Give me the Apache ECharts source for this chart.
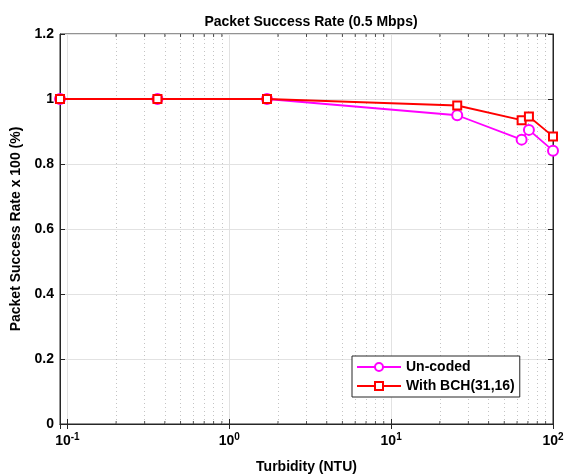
<!DOCTYPE html>
<html><head><meta charset="utf-8">
<script src="https://cdn.jsdelivr.net/npm/echarts@6/dist/echarts.min.js"></script>
<style>html,body{margin:0;padding:0;background:#fff}#c{width:564px;height:475px}</style>
</head><body><div id="c"></div>
<script>
var turbidity = [0.09, 0.36, 1.71, 25.6, 64, 71, 100];
var uncoded = [1, 1, 1, 0.95, 0.875, 0.905, 0.841];
var bch = [1, 1, 1, 0.98, 0.935, 0.946, 0.885];
var seriesNames = ['Un-coded', 'With BCH(31,16)'];
var minorX = [];
[0.1, 1, 10].forEach(function (d) { for (var k = 2; k <= 9; k++) minorX.push(+(d * k).toPrecision(3)); });
var xMin = 0.09, xMax = 100, yMin = 0, yMax = 1.2, yStep = 0.2;

var font = 'Liberation Sans, Arial, Helvetica, sans-serif';
var axisCol = '#262626';
function pairs(xs, ys) { return xs.map(function (x, i) { return [x, ys[i]]; }); }
function logLabel(v) {
  var l = Math.log10(v), e = Math.round(l);
  if (Math.abs(l - e) > 1e-6) return '';
  return '10{sup|' + e + '}';
}
var minorTickBottom = minorX.map(function (v) { return [v, yMin]; });
var minorTickTop = minorX.map(function (v) { return [v, yMax]; });

var chart = echarts.init(document.getElementById('c'), null, {renderer: 'canvas'});
chart.setOption({
  animation: false,
  backgroundColor: '#fff',
  textStyle: {fontFamily: font},
  title: {
    text: 'Packet Success Rate (0.5 Mbps)', left: 306, top: 10, textAlign: 'center',
    textStyle: {fontSize: 14, fontWeight: 'bold', color: '#000', fontFamily: font}
  },
  grid: {left: 60, right: 11, top: 34, bottom: 51, containLabel: false, outerBoundsMode: 'none',
    show: true, borderColor: axisCol, borderWidth: 1, backgroundColor: 'transparent'},
  legend: {
    orient: 'vertical', left: 352, top: 356, z: 20,
    data: seriesNames,
    itemWidth: 44, itemHeight: 10, itemGap: 5,
    padding: [4, 5, 4, 4],
    borderColor: axisCol, borderWidth: 1, backgroundColor: '#fff',
    textStyle: {fontSize: 14, fontWeight: 'bold', color: '#000', fontFamily: font}
  },
  xAxis: [{
    type: 'log', logBase: 10, min: xMin, max: xMax,
    name: 'Turbidity (NTU)', nameLocation: 'middle', nameGap: 36,
    nameTextStyle: {fontSize: 14, fontWeight: 'bold', color: '#000', fontFamily: font},
    axisLine: {lineStyle: {color: axisCol}},
    axisTick: {inside: true, length: 5, lineStyle: {color: axisCol}},
    axisLabel: {
      formatter: logLabel, color: '#000', fontSize: 14, fontWeight: 'bold', margin: 8, fontFamily: font,
      showMinLabel: false,
      rich: {sup: {fontSize: 10, fontWeight: 'bold', color: '#000', padding: [0, 0, 9, 0], fontFamily: font}}
    },
    splitLine: {show: true, lineStyle: {color: '#e2e2e2', width: 1}}
  }, {
    type: 'log', logBase: 10, min: xMin, max: xMax, position: 'top',
    axisLine: {lineStyle: {color: axisCol}},
    axisTick: {inside: true, length: 5, lineStyle: {color: axisCol}},
    axisLabel: {show: false}, splitLine: {show: false}
  }],
  yAxis: [{
    type: 'value', min: yMin, max: yMax, interval: yStep,
    name: 'Packet Success Rate x 100 (%)', nameLocation: 'middle', nameGap: 32,
    nameTextStyle: {fontSize: 14, fontWeight: 'bold', color: '#000', fontFamily: font},
    axisLine: {show: true, lineStyle: {color: axisCol}},
    axisTick: {show: true, inside: true, length: 5, lineStyle: {color: axisCol}},
    axisLabel: {color: '#000', fontSize: 14, fontWeight: 'bold', margin: 6, fontFamily: font},
    splitLine: {show: true, lineStyle: {color: '#e2e2e2', width: 1}}
  }, {
    type: 'value', min: yMin, max: yMax, interval: yStep, position: 'right',
    axisLine: {show: true, lineStyle: {color: axisCol}},
    axisTick: {show: true, inside: true, length: 5, lineStyle: {color: axisCol}},
    axisLabel: {show: false}, splitLine: {show: false}
  }],
  series: [{
    type: 'line', data: [], silent: true, z: 1,
    markLine: {
      silent: true, symbol: 'none', label: {show: false}, z: 1,
      lineStyle: {color: '#c4c4c4', type: [1, 3], width: 1},
      data: minorX.map(function (v) { return {xAxis: v}; })
    }
  }, {
    type: 'scatter', data: minorTickBottom, symbol: 'rect', symbolSize: [1, 3], symbolOffset: [0, -1.5],
    itemStyle: {color: axisCol}, silent: true, clip: false, z: 3
  }, {
    type: 'scatter', data: minorTickTop, symbol: 'rect', symbolSize: [1, 3], symbolOffset: [0, 1.5],
    itemStyle: {color: axisCol}, silent: true, clip: false, z: 3
  }, {
    name: seriesNames[0], type: 'line', data: pairs(turbidity, uncoded),
    symbol: 'emptyCircle', symbolSize: 10, showAllSymbol: true,
    lineStyle: {color: '#ff00ff', width: 1.8}, itemStyle: {color: '#ff00ff', borderWidth: 1.6},
    clip: false, z: 4
  }, {
    name: seriesNames[1], type: 'line', data: pairs(turbidity, bch),
    symbol: 'emptyRect', symbolSize: 8, showAllSymbol: true,
    lineStyle: {color: '#ff0000', width: 1.8}, itemStyle: {color: '#ff0000', borderWidth: 1.6},
    clip: false, z: 5
  }]
});
</script></body></html>
